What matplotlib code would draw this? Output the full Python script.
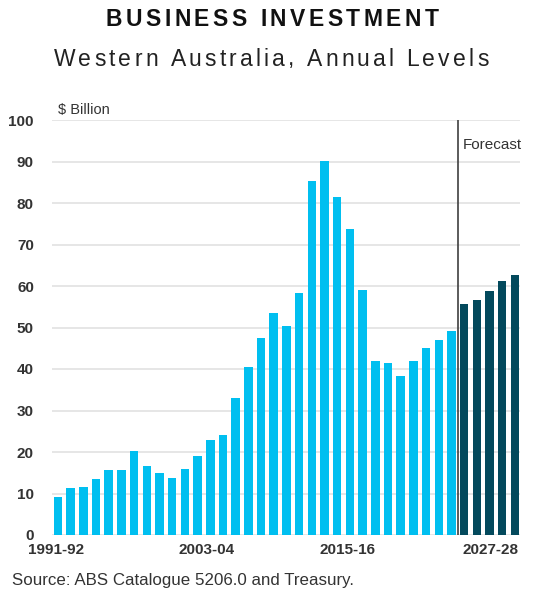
import numpy as np
import matplotlib.pyplot as plt
from matplotlib.transforms import ScaledTranslation

plt.rcParams['font.family'] = ['Liberation Sans', 'DejaVu Sans']

# Business investment, Western Australia ($ billion)
years = [f"{y}-{str(y + 1)[-2:]}" for y in range(1991, 2028)]
actual = [9.2, 11.4, 11.6, 13.4, 15.7, 15.7, 20.3, 16.6, 14.9, 13.7,
          15.8, 19.1, 22.9, 24.0, 33.1, 40.4, 47.4, 53.4, 50.4, 58.2,
          85.3, 90.1, 81.5, 73.7, 59.0, 41.9, 41.4, 38.2, 41.9, 45.0,
          47.1, 49.2]
forecast = [55.7, 56.6, 58.8, 61.3, 62.7]
tick_labels = ["1991-92", "2003-04", "2015-16", "2027-28"]

light = "#00BFF0"
dark = "#03495C"
txt = "#333333"

W, H = 544, 595
x_act = np.arange(len(actual))
x_fc = np.arange(len(actual), len(actual) + len(forecast))

fig = plt.figure(figsize=(W / 100, H / 100), dpi=100)
ax = fig.add_axes([52 / W, 60 / H, 468 / W, 415 / H])

ax.bar(x_act, actual, width=0.67, color=light, zorder=3)
ax.bar(x_fc, forecast, width=0.67, color=dark, zorder=3)

ax.set_ylim(0, 100)
ax.set_xlim(-0.47, len(years) - 0.6)
ax.set_yticks(range(0, 101, 10))
ax.yaxis.grid(True, color="#E2E2E2", linewidth=1.2, zorder=0)
ax.set_axisbelow(True)
for s in ax.spines.values():
    s.set_visible(False)
ax.tick_params(length=0, labelsize=11, colors=txt)
ax.tick_params(axis="y", pad=13)
ax.tick_params(axis="x", pad=6)
for lbl in ax.get_yticklabels():
    lbl.set_fontweight("bold")

pos = [years.index(t) for t in tick_labels]
ax.set_xticks(pos)
ax.set_xticklabels(tick_labels, fontweight="bold")
# labels sit a bit left of their bars in the original
shifts = [-2, -4, -15, -24]
for lbl, dx in zip(ax.get_xticklabels(), shifts):
    lbl.set_transform(lbl.get_transform() + ScaledTranslation(dx / 100, 0, fig.dpi_scale_trans))

# forecast divider
ax.axvline(len(actual) - 0.5, color="#404040", linewidth=1.2, zorder=4)
ax.text(len(actual) - 0.1, 94, "Forecast", fontsize=11, color=txt, va="center")
ax.text(0.0, 102.5, "$ Billion", fontsize=10.5, color=txt, va="center")


def spaced_text(s, xc, y, width, **kw):
    # draw text char by char so the letters spread over a given width (px)
    r = fig.canvas.get_renderer()
    ws = []
    for ch in s:
        t = fig.text(0, 0, ch, **kw)
        ws.append(t.get_window_extent(r).width)
        t.remove()
    gap = (width - sum(ws)) / (len(s) - 1)
    x = xc - width / 2
    for ch, w in zip(s, ws):
        fig.text(x / W, 1 - y / H, ch, ha="left", va="center", **kw)
        x += w + gap


spaced_text("BUSINESS INVESTMENT", 272, 20, 333, fontsize=16.5, fontweight="bold", color="#111111")
spaced_text("Western Australia, Annual Levels", 271, 59, 435, fontsize=16.5, color="#222222")
fig.text(12 / W, 1 - 581 / H, "Source: ABS Catalogue 5206.0 and Treasury.",
         ha="left", va="center", fontsize=12.2, color=txt)

fig.savefig("out.png", dpi=100)
